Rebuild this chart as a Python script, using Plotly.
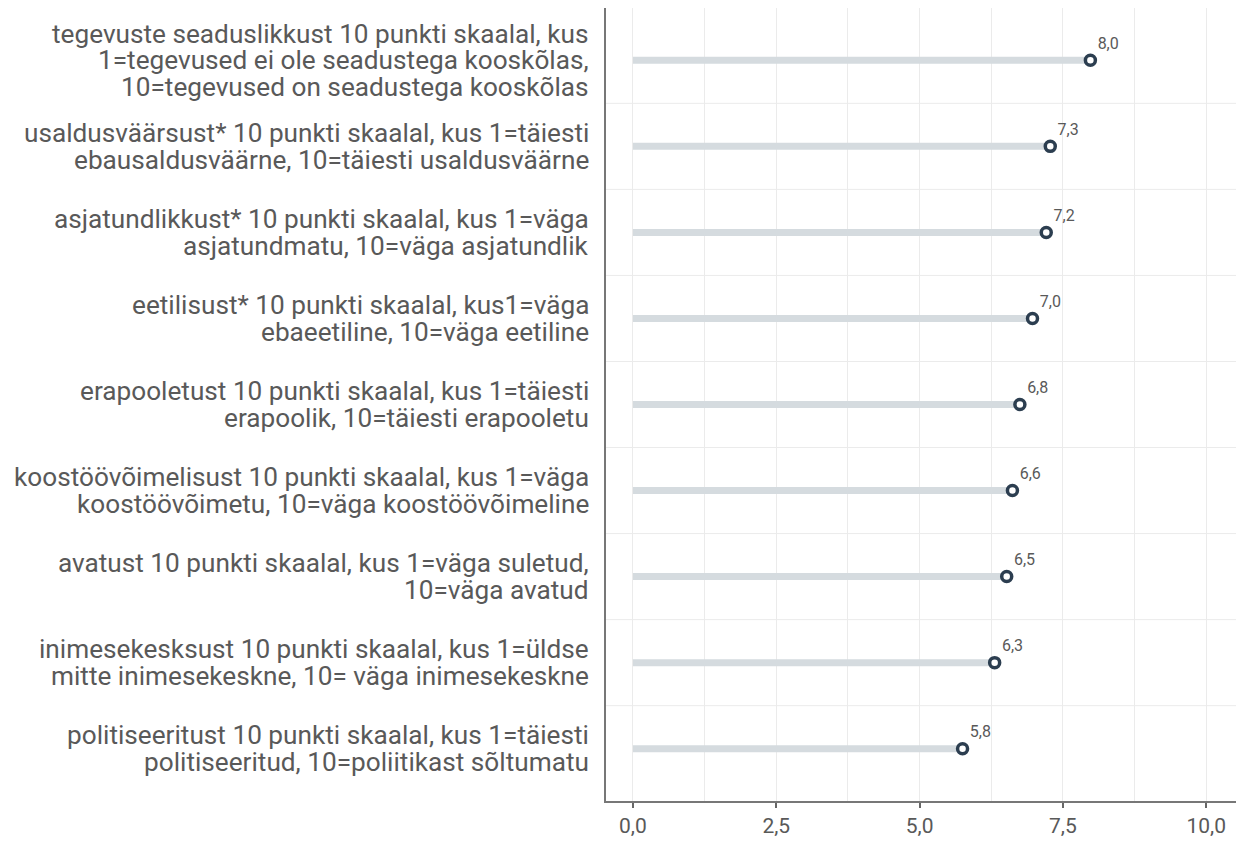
import plotly.graph_objects as go

categories = [
    "tegevuste seaduslikkust 10 punkti skaalal, kus<br>1=tegevused ei ole seadustega kooskõlas,<br>10=tegevused on seadustega kooskõlas",
    "usaldusväärsust* 10 punkti skaalal, kus 1=täiesti<br>ebausaldusväärne, 10=täiesti usaldusväärne",
    "asjatundlikkust* 10 punkti skaalal, kus 1=väga<br>asjatundmatu, 10=väga asjatundlik",
    "eetilisust* 10 punkti skaalal, kus1=väga<br>ebaeetiline, 10=väga eetiline",
    "erapooletust 10 punkti skaalal, kus 1=täiesti<br>erapoolik, 10=täiesti erapooletu",
    "koostöövõimelisust 10 punkti skaalal, kus 1=väga<br>koostöövõimetu, 10=väga koostöövõimeline",
    "avatust 10 punkti skaalal, kus 1=väga suletud,<br>10=väga avatud",
    "inimesekesksust 10 punkti skaalal, kus 1=üldse<br>mitte inimesekeskne, 10= väga inimesekeskne",
    "politiseeritust 10 punkti skaalal, kus 1=täiesti<br>politiseeritud, 10=poliitikast sõltumatu",
]
values = [7.98, 7.28, 7.21, 6.97, 6.75, 6.62, 6.52, 6.31, 5.75]
labels = ["8,0", "7,3", "7,2", "7,0", "6,8", "6,6", "6,5", "6,3", "5,8"]
x_tickvals = [0, 2.5, 5, 7.5, 10]
x_ticktext = ["0,0", "2,5", "5,0", "7,5", "10,0"]

FONT = "Roboto, Liberation Sans, Arial, sans-serif"
TEXT_COLOR = "#595959"
LABEL_SIZE = 26.2
LINE_SPACING = 26.5

line_x, line_y = [], []
for c, v in zip(categories, values):
    line_x += [0, v, None]
    line_y += [c, c, None]

fig = go.Figure()
fig.add_trace(go.Scatter(
    x=line_x, y=line_y, mode="lines",
    line=dict(color="#d5dbdf", width=7),
    hoverinfo="skip", showlegend=False,
))
fig.add_trace(go.Scatter(
    x=values, y=categories, mode="markers+text",
    text=labels, textposition="top right",
    textfont=dict(size=16, color=TEXT_COLOR, family=FONT),
    marker=dict(symbol="circle", size=10, color="white",
                line=dict(color="#2c3e50", width=3.5)),
    showlegend=False,
))

# category labels, one annotation per text line (tighter line spacing)
annotations = []
for c in categories:
    parts = c.split("<br>")
    n = len(parts)
    for j, part in enumerate(parts):
        annotations.append(dict(
            x=0, xref="paper", xanchor="right", xshift=-15,
            y=c, yref="y", yanchor="middle",
            yshift=((n - 1) / 2 - j) * LINE_SPACING,
            text=part, showarrow=False,
            font=dict(size=LABEL_SIZE, color=TEXT_COLOR, family=FONT),
        ))

# horizontal gridlines between categories
shapes = []
for i in range(len(categories) - 1):
    shapes.append(dict(
        type="line", xref="paper", x0=0, x1=1, yref="y",
        y0=i + 0.5, y1=i + 0.5,
        line=dict(color="#ebebeb", width=1), layer="below",
    ))

fig.update_layout(
    width=1228, height=830,
    margin=dict(l=598, r=0, t=0, b=27),
    paper_bgcolor="white", plot_bgcolor="white",
    font=dict(family=FONT, color=TEXT_COLOR),
    annotations=annotations,
    shapes=shapes,
    xaxis=dict(
        range=[-0.47, 10.52],
        tickvals=x_tickvals, ticktext=x_ticktext,
        ticks="outside", ticklen=5, tickwidth=1.5, tickcolor="#666666",
        tickfont=dict(size=21, color=TEXT_COLOR, family=FONT),
        showgrid=True, gridcolor="#ebebeb", gridwidth=1,
        minor=dict(dtick=1.25, tick0=0, showgrid=True, gridcolor="#ebebeb", gridwidth=1),
        showline=True, linecolor="#777777", linewidth=1.5,
        zeroline=False,
    ),
    yaxis=dict(
        categoryorder="array", categoryarray=categories,
        range=[8.608, -0.608],
        showticklabels=False, ticks="",
        showgrid=False,
        showline=True, linecolor="#777777", linewidth=1.5,
        zeroline=False,
    ),
)

fig.write_html("out.html")
